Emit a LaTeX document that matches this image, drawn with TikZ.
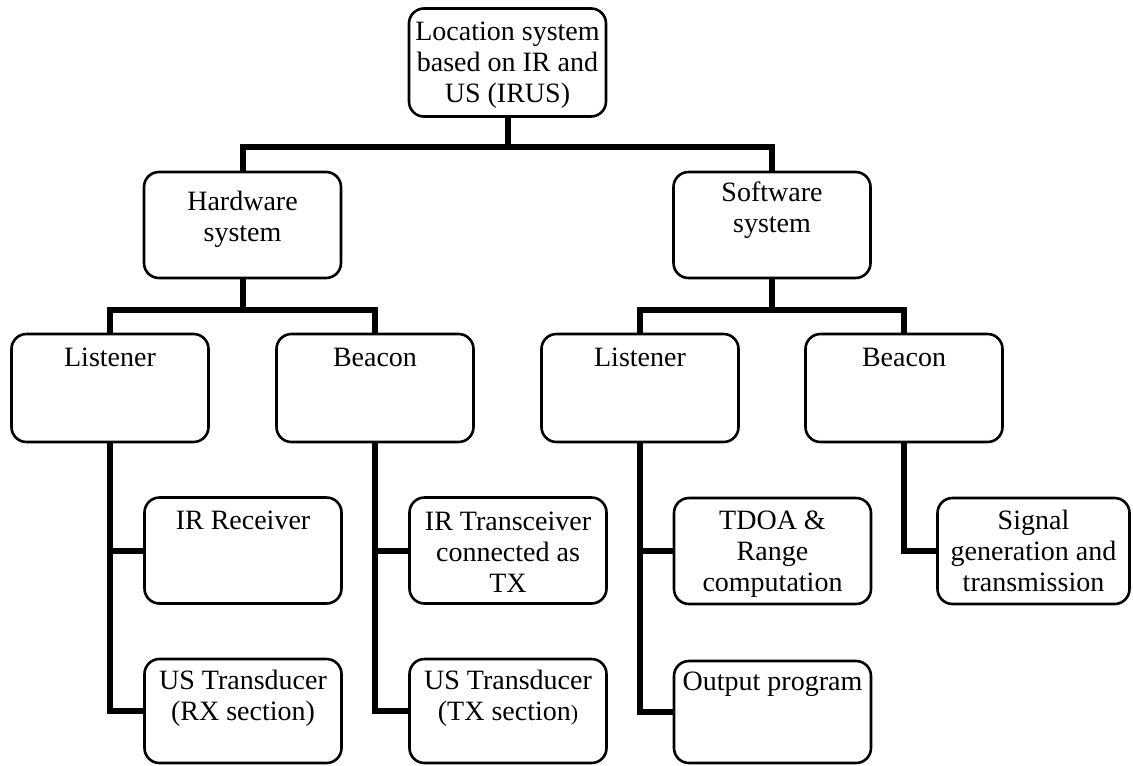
\documentclass[tikz,border=0pt]{standalone}
\usepackage{fontspec}
\setmainfont{Liberation Serif}
\begin{document}
\begin{tikzpicture}[x=1pt,y=-1pt,
  boxnode/.style={draw=black, line width=2.6pt, rounded corners=15pt, minimum width=197pt, minimum height=106pt, inner sep=0pt},
  txt/.style={anchor=base, align=center, inner sep=0pt, font=\fontsize{28}{31}\selectfont},
  conn/.style={line width=6pt, line join=miter, line cap=butt}]
\useasboundingbox (0,0) rectangle (1133,766);
% boxes
\node[boxnode, minimum height=108pt] (top) at (507.5,62.5) {};
\node[boxnode] (hw) at (242.5,225) {};
\node[boxnode] (sw) at (772,225) {};
\node[boxnode, minimum height=108pt] (hl) at (110,388) {};
\node[boxnode, minimum height=108pt] (hb) at (375,388) {};
\node[boxnode, minimum height=108pt] (sl) at (640,388) {};
\node[boxnode, minimum height=108pt] (sb) at (904,388) {};
\node[boxnode] (irr) at (243,550.5) {};
\node[boxnode, minimum height=104pt] (usr) at (243,711) {};
\node[boxnode] (irt) at (508,550.5) {};
\node[boxnode, minimum height=104pt] (ust) at (508,711) {};
\node[boxnode] (tdoa) at (772.5,551) {};
\node[boxnode, minimum height=102pt] (outp) at (772.5,712) {};
\node[boxnode, minimum width=192pt] (sig) at (1033.5,551) {};
% texts (anchor=base is the last line's baseline)
\node[txt] (ttop) at (507.5,102) {Location system\\based on IR and\\US (IRUS)};
\node[txt] (thw) at (242.5,241) {Hardware\\system};
\node[txt] (tsw) at (772,232) {Software\\system};
\node[txt] (thl) at (110,366) {Listener};
\node[txt] (thb) at (375,366) {Beacon};
\node[txt] (tsl) at (640,366) {Listener};
\node[txt] (tsb) at (904,366) {Beacon};
\node[txt] (tirr) at (243,529) {IR Receiver};
\node[txt] (tusr) at (243,720) {US Transducer\\(RX section)};
\node[txt] (tirt) at (508,592) {IR Transceiver\\connected as\\TX};
\node[txt] (tust) at (508,720) {US Transducer\\(TX section{\fontsize{22}{31}\selectfont)}};
\node[txt] (ttdoa) at (772.5,591) {TDOA \&\\Range\\computation};
\node[txt] (toutp) at (772.5,690) {Output program};
\node[txt] (tsig) at (1033.5,591) {Signal\\generation and\\transmission};
% connectors
\coordinate (b1) at (507.5,147);
\coordinate (b2) at (242.5,310);
\coordinate (b3) at (772,310);
\draw[conn] (top.south) -- (b1);
\draw[conn] (hw.north) |- (b1) -| (sw.north);
\draw[conn] (hw.south) -- (b2);
\draw[conn] (hl.north) |- (b2) -| (hb.north);
\draw[conn] (sw.south) -- (b3);
\draw[conn] (sl.north) |- (b3) -| (sb.north);
\draw[conn] (hl.south) |- (irr.west);
\draw[conn] (hl.south) |- (usr.west);
\draw[conn] (hb.south) |- (irt.west);
\draw[conn] (hb.south) |- (ust.west);
\draw[conn] (sl.south) |- (tdoa.west);
\draw[conn] (sl.south) |- (outp.west);
\draw[conn] (sb.south) |- (sig.west);
\end{tikzpicture}
\end{document}
